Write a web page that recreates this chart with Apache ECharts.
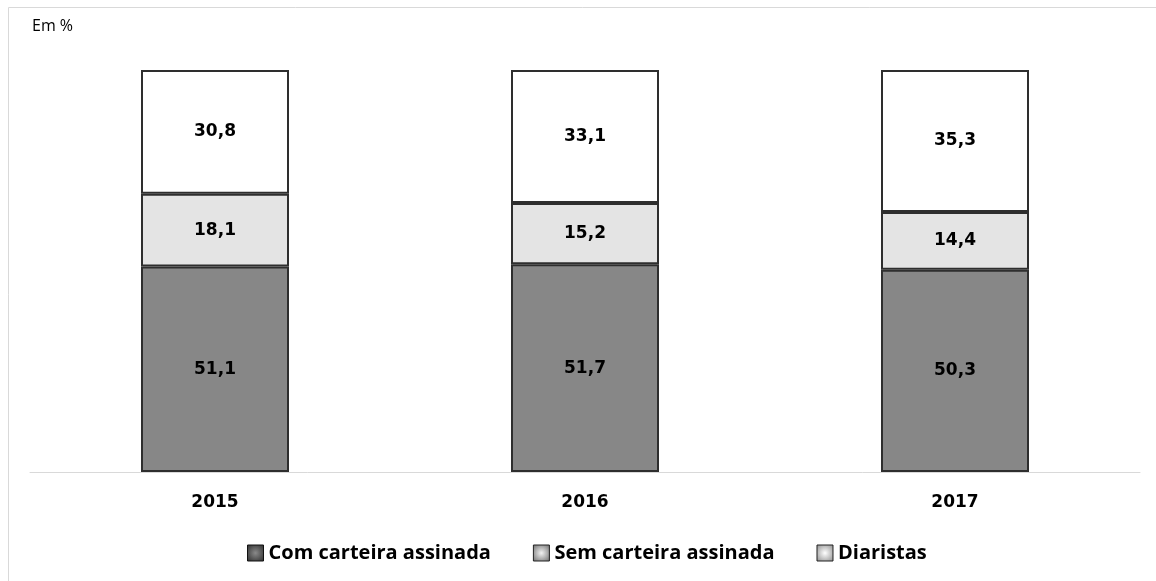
<!DOCTYPE html>
<html>
<head>
<meta charset="utf-8">
<script src="https://cdn.jsdelivr.net/npm/echarts@6/dist/echarts.min.js"></script>
<style>
  html, body { margin: 0; padding: 0; background: #fff; }
  #chart { width: 1156px; height: 581px; }
</style>
</head>
<body>
<div id="chart"></div>
<script>
const years = ['2015', '2016', '2017']
const comCarteira = [51.1, 51.7, 50.3]
const semCarteira = [18.1, 15.2, 14.4]
const diaristas = [30.8, 33.1, 35.3]

const chart = echarts.init(document.getElementById('chart'))

const fmt = p => p.value.toFixed(1).replace('.', ',')
const label = {
  show: true,
  formatter: fmt,
  color: '#000',
  fontFamily: 'DejaVu Sans',
  fontWeight: 'bold',
  fontSize: 17
}
const border = { borderColor: '#2e2e2e', borderWidth: 2 }

function barSeries(name, data, color) {
  return {
    name,
    type: 'bar',
    stack: 'total',
    barWidth: '40%',
    data,
    label,
    itemStyle: Object.assign({ color }, border)
  }
}

// legend swatches: light centre fading to a darker rim
const swatch = (inner, outer) => ({
  type: 'radial', x: 0.5, y: 0.5, r: 0.7,
  colorStops: [{ offset: 0, color: inner }, { offset: 1, color: outer }]
})

chart.setOption({
  animation: false,
  graphic: [
    {
      type: 'rect',
      shape: { x: 8.5, y: 7.5, width: 1160, height: 600 },
      style: { fill: 'none', stroke: '#d9d9d9', lineWidth: 1 }
    },
    {
      type: 'text',
      left: 32,
      top: 18,
      style: { text: 'Em %', font: '16px "Open Sans"', fill: '#000' }
    }
  ],
  grid: { left: 30, right: 16, top: 70, bottom: 109 },
  legend: {
    top: 538,
    left: 242,
    icon: 'rect',
    itemWidth: 16,
    itemHeight: 16,
    itemGap: 42,
    textStyle: { fontFamily: 'Open Sans', fontWeight: 'bold', fontSize: 20, color: '#000' },
    data: [
      { name: 'Com carteira assinada', itemStyle: { color: swatch('#8a8a8a', '#2a2a2a'), borderColor: '#111', borderWidth: 1 } },
      { name: 'Sem carteira assinada', itemStyle: { color: swatch('#f2f2f2', '#6a6a6a'), borderColor: '#222', borderWidth: 1 } },
      { name: 'Diaristas', itemStyle: { color: swatch('#ffffff', '#8a8a8a'), borderColor: '#222', borderWidth: 1 } }
    ]
  },
  xAxis: {
    type: 'category',
    data: years,
    axisLine: { lineStyle: { color: '#d9d9d9', width: 1 } },
    axisTick: { show: false },
    axisLabel: { color: '#000', fontFamily: 'DejaVu Sans', fontWeight: 'bold', fontSize: 17, margin: 22 }
  },
  yAxis: {
    type: 'value',
    min: 0,
    max: 100,
    show: false
  },
  series: [
    barSeries('Com carteira assinada', comCarteira, '#878787'),
    barSeries('Sem carteira assinada', semCarteira, '#e4e4e4'),
    barSeries('Diaristas', diaristas, '#ffffff')
  ]
})
</script>
</body>
</html>
